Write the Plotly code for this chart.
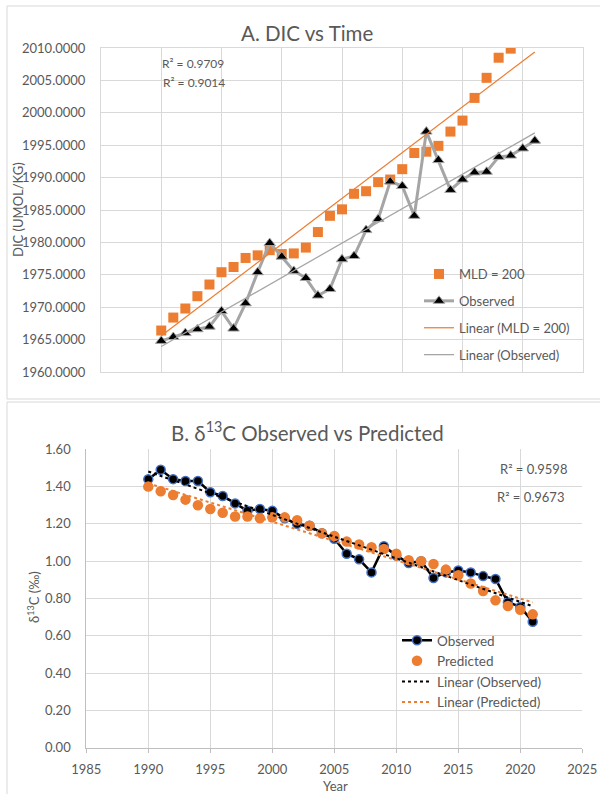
import numpy as np
import plotly.graph_objects as go

# ---------------- data ----------------
years_a = list(range(1990, 2022))
mld_200 = [1966.4, 1968.4, 1969.8, 1971.7, 1973.5, 1975.4, 1976.2, 1977.6, 1978.0, 1978.8,
           1978.2, 1978.3, 1979.2, 1981.6, 1984.1, 1985.1, 1987.5, 1987.9, 1989.3, 1989.7,
           1991.3, 1993.8, 1994.0, 1994.9, 1997.1, 1998.8, 2002.3, 2005.4, 2008.5, 2009.9,
           2012.4, 2014.9]
observed_dic = [1964.8, 1965.4, 1966.0, 1966.6, 1967.0, 1969.4, 1966.7, 1970.6, 1975.4, 1979.9,
                1977.8, 1975.6, 1974.5, 1971.8, 1972.8, 1977.4, 1977.9, 1981.9, 1983.6, 1989.4,
                1988.7, 1984.1, 1997.1, 1992.7, 1988.1, 1989.7, 1990.8, 1990.9, 1993.2, 1993.4,
                1994.5, 1995.7]
r2_a = ["R² = 0.9709", "R² = 0.9014"]

years_b = list(range(1990, 2022))
d13c_observed = [1.44, 1.49, 1.44, 1.43, 1.43, 1.37, 1.35, 1.31, 1.27, 1.28,
                 1.27, 1.23, 1.20, 1.19, 1.15, 1.12, 1.04, 1.01, 0.94, 1.08,
                 1.03, 0.99, 1.00, 0.91, 0.94, 0.95, 0.94, 0.92, 0.905, 0.78,
                 0.755, 0.675]
d13c_predicted = [1.40, 1.375, 1.355, 1.33, 1.30, 1.28, 1.26, 1.24, 1.24, 1.23,
                  1.235, 1.235, 1.22, 1.19, 1.15, 1.135, 1.105, 1.09, 1.075, 1.065,
                  1.04, 1.005, 1.00, 0.985, 0.955, 0.925, 0.88, 0.84, 0.79, 0.76,
                  0.74, 0.715]
r2_b = ["R² = 0.9598", "R² = 0.9673"]

# ---------------- helpers ----------------
W, H = 600, 794
FONT = "Lato, 'Liberation Sans', sans-serif"
GREY_TXT = "#595959"
GRID = "#D9D9D9"
ORANGE = "#ED7D31"
GREY = "#A5A5A5"
BLUE = "#4472C4"


def px(x):
    return x / W


def py(y):
    return 1 - y / H


def trend(xs, ys):
    k, b = np.polyfit(xs, ys, 1)
    x_end = [xs[0], xs[-1]]
    return x_end, [k * x + b for x in x_end]


fig = go.Figure()

# ---------------- panel A ----------------
fig.add_trace(go.Scatter(
    x=years_a, y=mld_200, mode="markers", name="MLD = 200",
    marker=dict(symbol="square", size=10, color=ORANGE),
    xaxis="x", yaxis="y", legend="legend", legendgroup="a1"))
fig.add_trace(go.Scatter(
    x=years_a, y=observed_dic, mode="lines+markers", name="Observed",
    line=dict(color=GREY, width=3),
    marker=dict(symbol="triangle-up", size=10, color="black", line=dict(color=GREY, width=1)),
    xaxis="x", yaxis="y", legend="legend", legendgroup="a2"))
tx, ty = trend(years_a, mld_200)
fig.add_trace(go.Scatter(
    x=tx, y=ty, mode="lines", name="Linear (MLD = 200)",
    line=dict(color=ORANGE, width=1.25),
    xaxis="x", yaxis="y", legend="legend", legendgroup="a3"))
tx, ty = trend(years_a, observed_dic)
fig.add_trace(go.Scatter(
    x=tx, y=ty, mode="lines", name="Linear (Observed)",
    line=dict(color=GREY, width=1.25),
    xaxis="x", yaxis="y", legend="legend", legendgroup="a4"))

# ---------------- panel B ----------------
fig.add_trace(go.Scatter(
    x=years_b, y=d13c_observed, mode="lines+markers", name="Observed",
    line=dict(color="black", width=2.5),
    marker=dict(symbol="circle", size=9, color="black", line=dict(color=BLUE, width=1.5)),
    xaxis="x2", yaxis="y2", legend="legend2", legendgroup="b1"))
fig.add_trace(go.Scatter(
    x=years_b, y=d13c_predicted, mode="markers", name="Predicted",
    marker=dict(symbol="circle", size=10.5, color=ORANGE),
    xaxis="x2", yaxis="y2", legend="legend2", legendgroup="b2"))
tx, ty = trend(years_b, d13c_observed)
fig.add_trace(go.Scatter(
    x=tx, y=ty, mode="lines", name="Linear (Observed)",
    line=dict(color="black", width=2, dash="dot"),
    xaxis="x2", yaxis="y2", legend="legend2", legendgroup="b3"))
tx, ty = trend(years_b, d13c_predicted)
fig.add_trace(go.Scatter(
    x=tx, y=ty, mode="lines", name="Linear (Predicted)",
    line=dict(color=ORANGE, width=2, dash="dot"),
    xaxis="x2", yaxis="y2", legend="legend2", legendgroup="b4"))

tickfont = dict(family=FONT, size=13, color=GREY_TXT)

fig.update_layout(
    width=W, height=H,
    margin=dict(l=0, r=0, t=0, b=0, autoexpand=False),
    paper_bgcolor="white", plot_bgcolor="white",
    font=dict(family=FONT, color=GREY_TXT),
    xaxis=dict(domain=[px(101), px(583)], range=[1985, 2025], dtick=5, automargin=False,
               showticklabels=False, showgrid=True, gridcolor=GRID, gridwidth=1,
               showline=True, mirror=True, linecolor=GRID, zeroline=False, ticks=""),
    yaxis=dict(domain=[py(372), py(48)], range=[1960, 2010], dtick=5, tickformat=".4f",
               automargin=False,
               tickfont=tickfont, showgrid=True, gridcolor=GRID, gridwidth=1,
               showline=True, mirror=True, linecolor=GRID, zeroline=False, ticks="",
               ticklabelstandoff=12),
    xaxis2=dict(domain=[px(86.3), px(582.3)], range=[1985, 2025], dtick=5, anchor="y2",
                automargin=False,
                tickfont=tickfont, showgrid=True, gridcolor=GRID, gridwidth=1,
                showline=True, linecolor="#BFBFBF", zeroline=False,
                ticks="outside", ticklen=4, tickcolor="#BFBFBF", ticklabelstandoff=6),
    yaxis2=dict(domain=[py(747.7), py(449.3)], range=[0, 1.6], dtick=0.2, tickformat=".2f",
                anchor="x2", automargin=False,
                tickfont=tickfont, showgrid=True, gridcolor=GRID, gridwidth=1,
                showline=True, linecolor="#BFBFBF", zeroline=False, ticks="",
                ticklabelstandoff=12),
    legend=dict(x=px(419), y=py(259), xanchor="left", yanchor="top",
                font=dict(family=FONT, size=13, color=GREY_TXT),
                bgcolor="rgba(0,0,0,0)", tracegroupgap=7, itemclick=False),
    legend2=dict(x=px(397), y=py(625), xanchor="left", yanchor="top",
                 font=dict(family=FONT, size=13.5, color=GREY_TXT),
                 bgcolor="rgba(0,0,0,0)", tracegroupgap=0, itemclick=False),
)

# chart area borders
fig.add_shape(type="rect", xref="paper", yref="paper",
              x0=px(7), x1=px(620), y0=py(399), y1=py(6),
              line=dict(color=GRID, width=1), layer="below")
fig.add_shape(type="rect", xref="paper", yref="paper",
              x0=px(7), x1=px(620), y0=py(820), y1=py(402),
              line=dict(color=GRID, width=1), layer="below")


def label(text, x, y, size, xanchor="center", angle=0):
    return dict(text=text, x=px(x), y=py(y), xref="paper", yref="paper",
                xanchor=xanchor, yanchor="middle", showarrow=False, textangle=angle,
                font=dict(family=FONT, size=size, color=GREY_TXT))


ann = [
    label("A. DIC vs Time", 307, 33, 20.5),
    label("B. δ<sup>13</sup>C Observed vs Predicted", 307, 431, 20.5),
    label("DIC (UMOL/KG)", 18, 210, 13, angle=-90),
    label("δ<sup>13</sup>C (‰)", 33, 597, 13, angle=-90),
    label("Year", 335, 786, 13),
    label(r2_a[0], 160, 63, 12, xanchor="left"),
    label(r2_a[1], 161, 82, 12, xanchor="left"),
    label(r2_b[0], 569, 469, 13, xanchor="right"),
    label(r2_b[1], 566, 497, 13, xanchor="right"),
]
fig.update_layout(annotations=ann)

fig.write_html("out.html")
